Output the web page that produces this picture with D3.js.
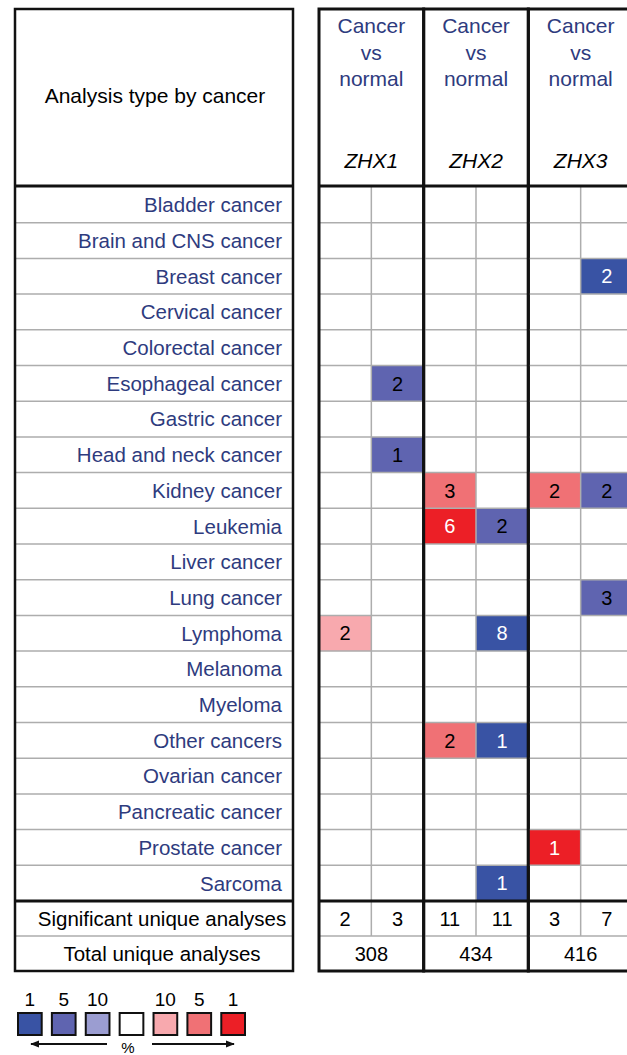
<!DOCTYPE html>
<html>
<head>
    <title>ZHX Oncomine</title>
    <script src="https://d3js.org/d3.v7.min.js"></script>
    <style>
        body { margin: 0; background: #fff; }
        text { font-family: "Liberation Sans", Arial, sans-serif; }
    </style>
</head>
<body>
    <svg width="627" height="1055"></svg>
    <script>
        // data
        let cancers = ["Bladder cancer", "Brain and CNS cancer", "Breast cancer", "Cervical cancer",
            "Colorectal cancer", "Esophageal cancer", "Gastric cancer", "Head and neck cancer",
            "Kidney cancer", "Leukemia", "Liver cancer", "Lung cancer", "Lymphoma", "Melanoma",
            "Myeloma", "Other cancers", "Ovarian cancer", "Pancreatic cancer", "Prostate cancer", "Sarcoma"];
        let genes = ["ZHX1", "ZHX2", "ZHX3"];
        let sides = ["up", "down"];

        // cells: cancer, side (up = red, down = blue), count, percentile level
        let zhx1Cells = [
            { cancer: "Esophageal cancer", side: "down", n: 2, pct: 5 },
            { cancer: "Head and neck cancer", side: "down", n: 1, pct: 5 },
            { cancer: "Lymphoma", side: "up", n: 2, pct: 10 }
        ];
        let zhx2Cells = [
            { cancer: "Kidney cancer", side: "up", n: 3, pct: 5 },
            { cancer: "Leukemia", side: "up", n: 6, pct: 1 },
            { cancer: "Leukemia", side: "down", n: 2, pct: 5 },
            { cancer: "Lymphoma", side: "down", n: 8, pct: 1 },
            { cancer: "Other cancers", side: "up", n: 2, pct: 5 },
            { cancer: "Other cancers", side: "down", n: 1, pct: 1 },
            { cancer: "Sarcoma", side: "down", n: 1, pct: 1 }
        ];
        let zhx3Cells = [
            { cancer: "Breast cancer", side: "down", n: 2, pct: 1 },
            { cancer: "Kidney cancer", side: "up", n: 2, pct: 5 },
            { cancer: "Kidney cancer", side: "down", n: 2, pct: 5 },
            { cancer: "Lung cancer", side: "down", n: 3, pct: 5 },
            { cancer: "Prostate cancer", side: "up", n: 1, pct: 1 }
        ];
        let significant = [[2, 3], [11, 11], [3, 7]];
        let totals = [308, 434, 416];
        let legendKeys = ["down1", "down5", "down10", "none", "up10", "up5", "up1"];
        let legendLabels = ["1", "5", "10", "", "10", "5", "1"];

        let svg = d3.select("svg");
        let blue = "#2e3b7e";

        let color = d3.scaleOrdinal()
            .domain(legendKeys)
            .range(["#3953a4", "#5f64b0", "#9b9dd1", "#ffffff", "#f8a9ae", "#f07175", "#ec1f26"]);

        let y = d3.scaleBand().domain(cancers).range([187, 901]);
        let x = d3.scaleBand().domain(genes).range([319, 633]);
        let xs = d3.scaleBand().domain(sides).range([0, x.bandwidth()]);
        let rowH = y.bandwidth();
        let sigTop = 901, sigBot = 936, totBot = 971;

        // left panel
        let left = svg.append("g");
        left.append("text")
            .attr("x", 155).attr("y", 103)
            .attr("text-anchor", "middle")
            .attr("font-size", 21)
            .text("Analysis type by cancer");

        left.selectAll(".hl").data(cancers.slice(1)).enter().append("line")
            .attr("x1", 15).attr("x2", 293)
            .attr("y1", d => y(d)).attr("y2", d => y(d))
            .attr("stroke", "#adadad").attr("stroke-width", 1.5);
        left.append("line").attr("x1", 15).attr("x2", 293).attr("y1", sigBot).attr("y2", sigBot)
            .attr("stroke", "#adadad").attr("stroke-width", 1.5);

        left.selectAll(".lab").data(cancers).enter().append("text")
            .attr("x", 282)
            .attr("y", d => y(d) + rowH / 2)
            .attr("dy", "0.36em")
            .attr("text-anchor", "end")
            .attr("font-size", 20.5)
            .attr("fill", blue)
            .text(d => d);

        left.append("text").attr("x", 162).attr("y", (sigTop + sigBot) / 2).attr("dy", "0.36em")
            .attr("text-anchor", "middle").attr("font-size", 20.5).text("Significant unique analyses");
        left.append("text").attr("x", 162).attr("y", (sigBot + totBot) / 2).attr("dy", "0.36em")
            .attr("text-anchor", "middle").attr("font-size", 20.5).text("Total unique analyses");

        left.append("rect").attr("x", 15).attr("y", 9).attr("width", 278).attr("height", totBot - 9)
            .attr("fill", "none").attr("stroke", "#111").attr("stroke-width", 2.5);
        left.selectAll(".thick").data([186, sigTop]).enter().append("line")
            .attr("x1", 15).attr("x2", 293).attr("y1", d => d).attr("y2", d => d)
            .attr("stroke", "#111").attr("stroke-width", 3);

        // right panel
        let right = svg.append("g");
        let allCells = [zhx1Cells, zhx2Cells, zhx3Cells];

        genes.forEach((gene, gi) => {
            let g = right.append("g").attr("transform", `translate(${x(gene)},0)`);
            let w = x.bandwidth();

            g.selectAll(".cell").data(allCells[gi]).enter().append("rect")
                .attr("x", d => xs(d.side))
                .attr("y", d => y(d.cancer))
                .attr("width", xs.bandwidth())
                .attr("height", rowH)
                .attr("fill", d => color(d.side + d.pct));

            // grid
            g.selectAll(".hl").data(cancers.slice(1)).enter().append("line")
                .attr("x1", 0).attr("x2", w)
                .attr("y1", d => y(d)).attr("y2", d => y(d))
                .attr("stroke", "#adadad").attr("stroke-width", 1.5);
            g.append("line").attr("x1", 0).attr("x2", w).attr("y1", sigBot).attr("y2", sigBot)
                .attr("stroke", "#adadad").attr("stroke-width", 1.5);
            g.append("line").attr("x1", xs("down")).attr("x2", xs("down"))
                .attr("y1", 187).attr("y2", sigBot)
                .attr("stroke", "#adadad").attr("stroke-width", 1.5);

            g.selectAll(".num").data(allCells[gi]).enter().append("text")
                .attr("x", d => xs(d.side) + xs.bandwidth() / 2)
                .attr("y", d => y(d.cancer) + rowH / 2)
                .attr("dy", "0.36em")
                .attr("text-anchor", "middle")
                .attr("font-size", 20)
                .attr("fill", d => d.pct === 1 ? "#fff" : "#000")
                .text(d => d.n);

            // header
            g.selectAll(".hd").data(["Cancer", "vs", "normal"]).enter().append("text")
                .attr("x", w / 2).attr("y", (d, i) => 33 + i * 26.5)
                .attr("text-anchor", "middle").attr("font-size", 21)
                .attr("fill", blue)
                .text(d => d);
            g.append("text").attr("x", w / 2).attr("y", 168)
                .attr("text-anchor", "middle").attr("font-size", 21)
                .attr("font-style", "italic")
                .text(gene);

            // summary rows
            g.selectAll(".sig").data(significant[gi]).enter().append("text")
                .attr("x", (d, i) => xs(sides[i]) + xs.bandwidth() / 2)
                .attr("y", (sigTop + sigBot) / 2).attr("dy", "0.36em")
                .attr("text-anchor", "middle").attr("font-size", 20)
                .text(d => d);
            g.append("text").attr("x", w / 2).attr("y", (sigBot + totBot) / 2).attr("dy", "0.36em")
                .attr("text-anchor", "middle").attr("font-size", 20)
                .text(totals[gi]);

            g.append("rect").attr("x", 0).attr("y", 9).attr("width", w).attr("height", totBot - 9)
                .attr("fill", "none").attr("stroke", "#111").attr("stroke-width", 3);
            g.selectAll(".thick").data([186, sigTop]).enter().append("line")
                .attr("x1", 0).attr("x2", w).attr("y1", d => d).attr("y2", d => d)
                .attr("stroke", "#111").attr("stroke-width", 3);
        });

        // legend
        let lx = d3.scaleBand().domain(legendKeys).range([18, 245]).paddingInner(0.3);
        let legend = svg.append("g");
        legend.selectAll("rect").data(legendKeys).enter().append("rect")
            .attr("x", d => lx(d)).attr("y", 1013)
            .attr("width", lx.bandwidth()).attr("height", 22)
            .attr("fill", d => color(d))
            .attr("stroke", "#111").attr("stroke-width", 2);
        legend.selectAll(".ll").data(legendKeys).enter().append("text")
            .attr("x", d => lx(d) + lx.bandwidth() / 2).attr("y", 1006)
            .attr("text-anchor", "middle").attr("font-size", 19)
            .text((d, i) => legendLabels[i]);

        svg.append("defs").append("marker")
            .attr("id", "arr").attr("viewBox", "0 0 10 10")
            .attr("refX", 9).attr("refY", 5)
            .attr("markerWidth", 5).attr("markerHeight", 5)
            .attr("orient", "auto-start-reverse")
            .append("path").attr("d", "M0,1L10,5L0,9Z").attr("fill", "#111");
        legend.append("line").attr("x1", 107).attr("x2", 31).attr("y1", 1044).attr("y2", 1044)
            .attr("stroke", "#111").attr("stroke-width", 1.8).attr("marker-end", "url(#arr)");
        legend.append("line").attr("x1", 152).attr("x2", 234).attr("y1", 1044).attr("y2", 1044)
            .attr("stroke", "#111").attr("stroke-width", 1.8).attr("marker-end", "url(#arr)");
        legend.append("text").attr("x", 128).attr("y", 1053)
            .attr("text-anchor", "middle").attr("font-size", 15).text("%");
    </script>
</body>
</html>
